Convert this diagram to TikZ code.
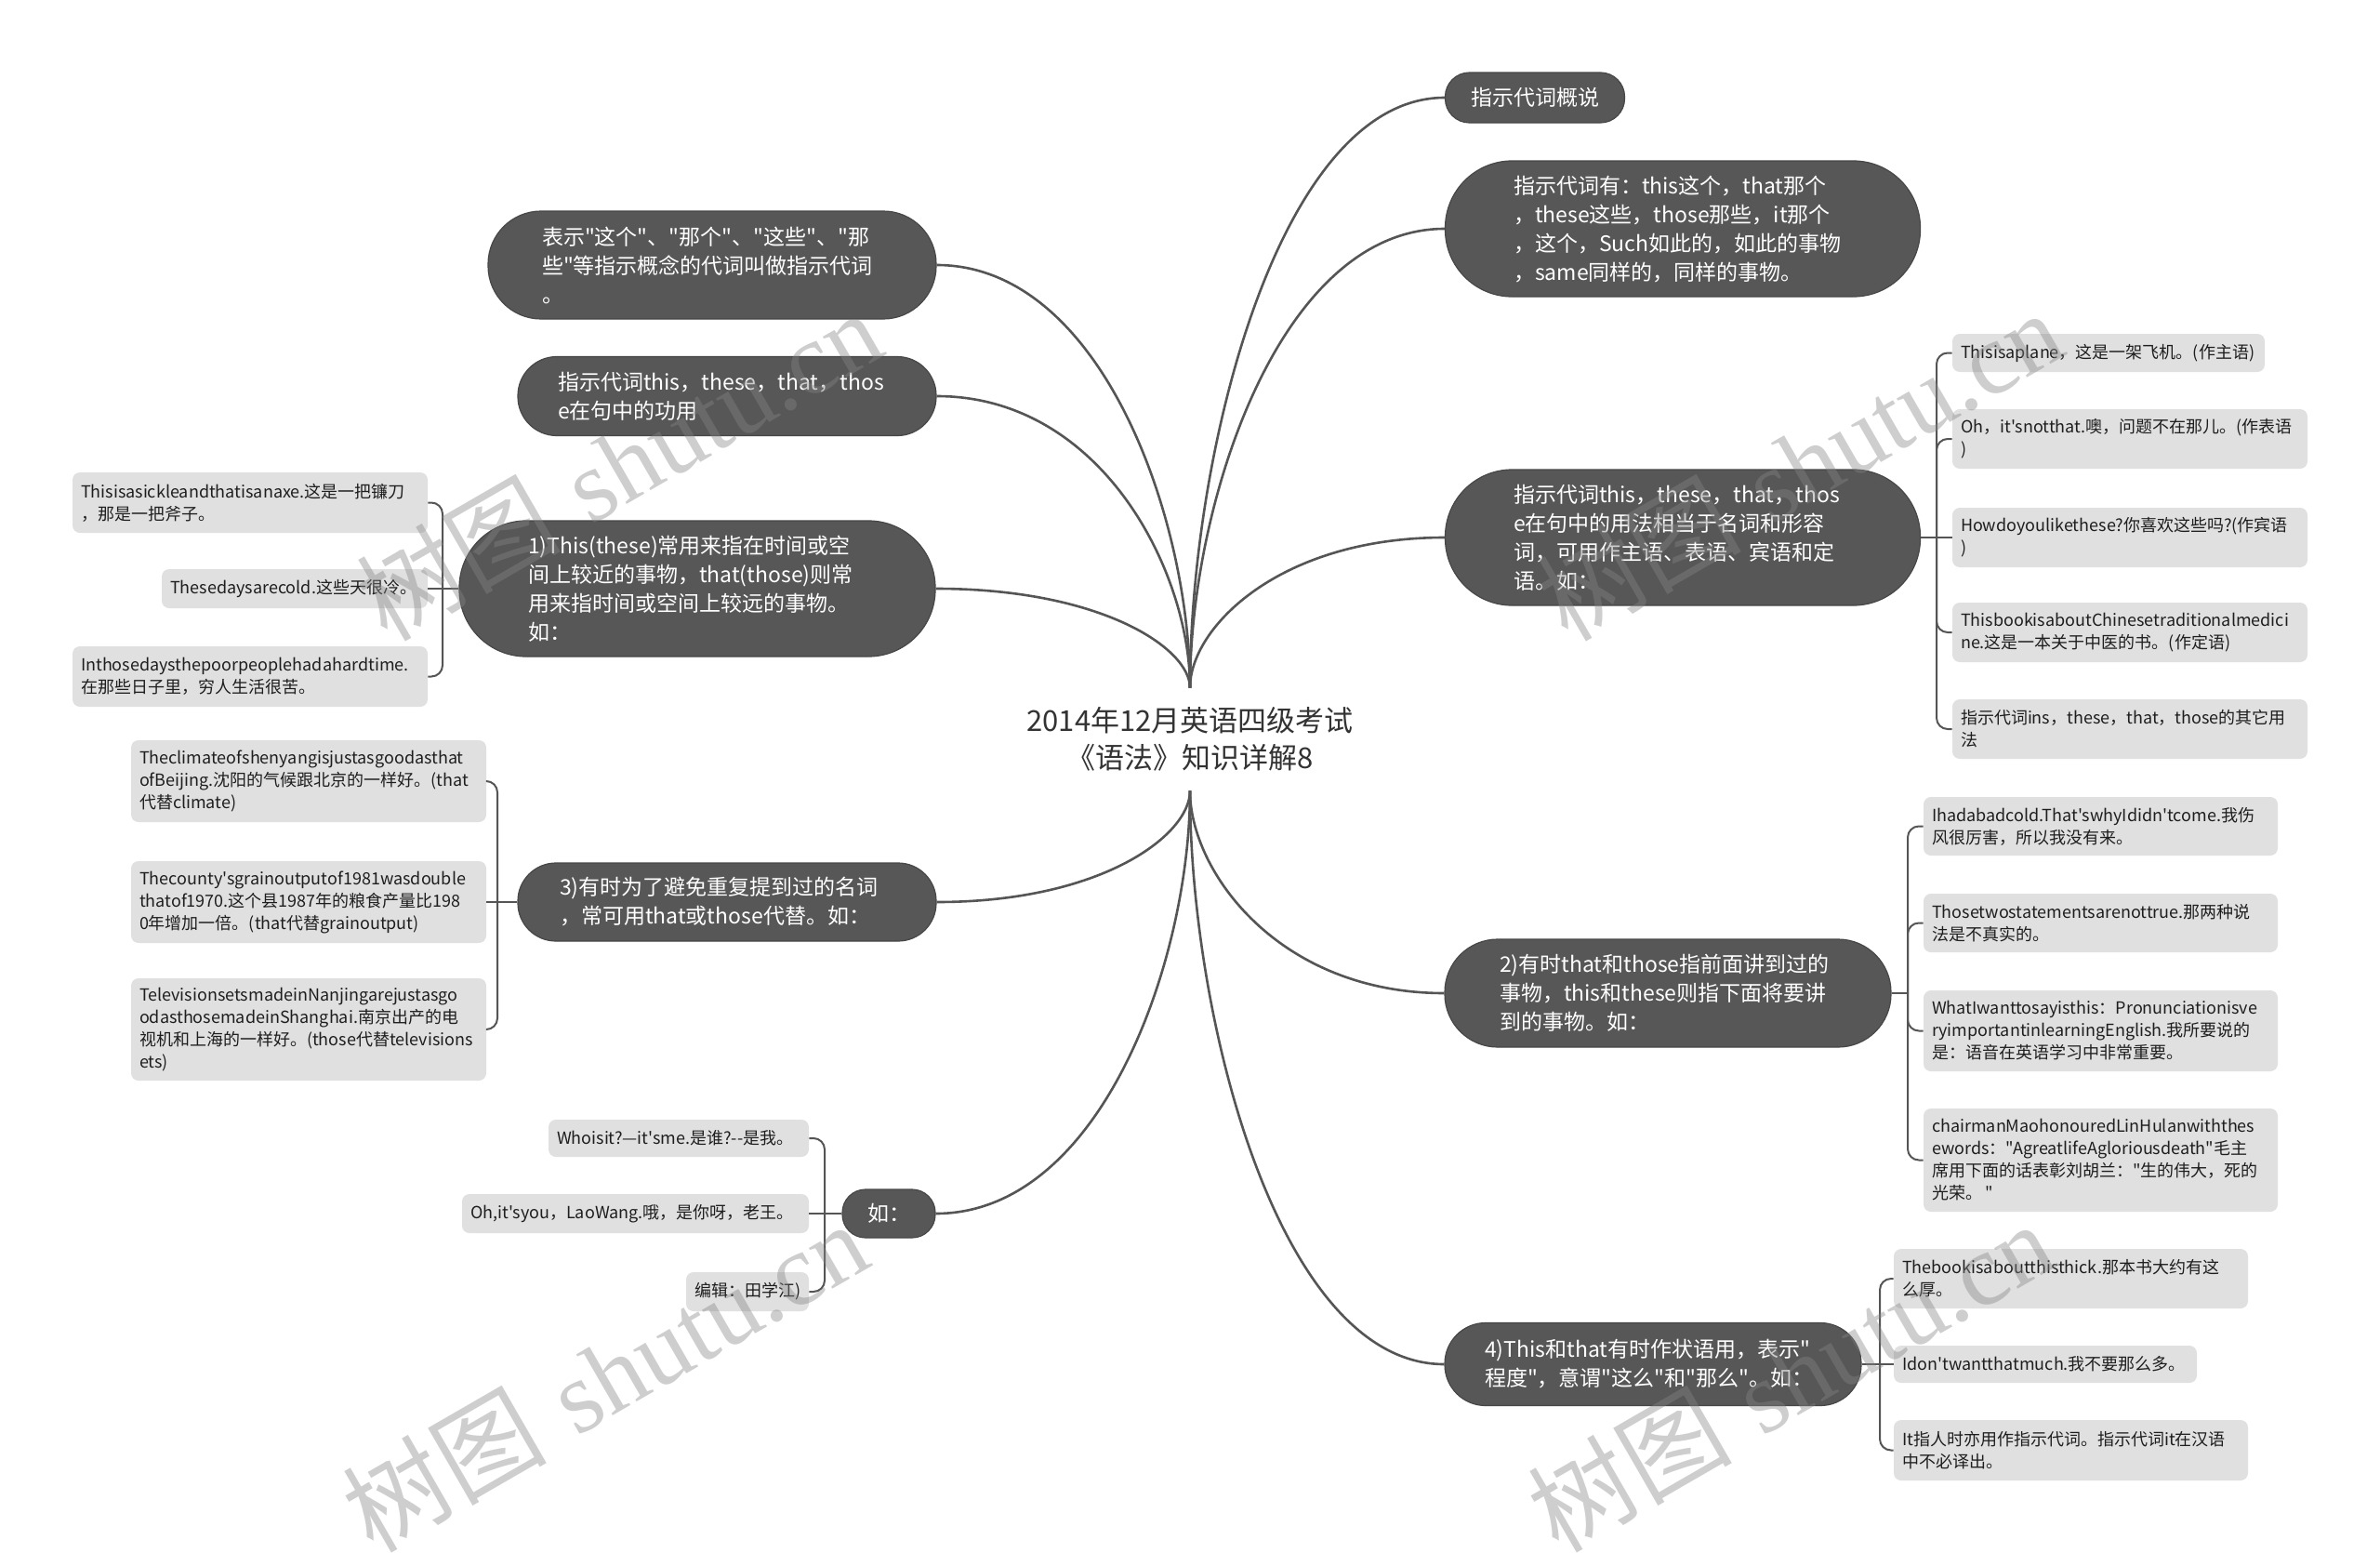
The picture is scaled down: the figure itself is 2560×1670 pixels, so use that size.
\documentclass[tikz,border=0pt]{standalone}
\usepackage{fontspec}
\newfontfamily\cjkmain{Noto Sans CJK SC}
\newfontfamily\wmlatin{Liberation Serif}
\usetikzlibrary{calc}
\definecolor{mainc}{HTML}{575757}
\definecolor{mainb}{HTML}{474747}
\definecolor{subc}{HTML}{E0E0E0}
\definecolor{linec}{HTML}{555555}
\definecolor{txtc}{HTML}{1E1E1E}
\definecolor{rootc}{HTML}{333333}
\definecolor{wmc}{HTML}{858585}
\newcommand\mmcurve[2]{\draw[conn] (#1) .. controls ($(#1)!0.4!(#1|-#2)$) and ($(#1|-#2)!0.35!(#2)$) .. (#2);}
\begin{document}
\begin{tikzpicture}[x=0.5pt,y=-0.5pt,
  mainnode/.style={fill=mainc, draw=mainb, line width=0.6pt, text=white, font=\cjkmain\fontsize{11.5}{15.5}\selectfont, align=left, inner sep=0pt},
  subnode/.style={fill=subc, rounded corners=4pt, text=txtc, font=\cjkmain\fontsize{9}{12}\selectfont, align=left, inner sep=0pt},
  conn/.style={draw=linec, line width=1.3pt},
  brk/.style={draw=linec, line width=1pt, rounded corners=6pt},
  wm/.style={text=wmc, opacity=0.4, rotate=30, inner sep=0pt, font=\fontsize{55}{55}\selectfont}
]
\useasboundingbox (0,0) rectangle (2560,1670);
\fill[white] (0,0) rectangle (2560,1670);

% root
\node[font=\cjkmain\fontsize{15.5}{20}\selectfont, text=rootc, align=center, minimum height=55pt, inner sep=0pt] (root) at (1280,795) {2014年12月英语四级考试\\《语法》知识详解8};

% main nodes right
\node[mainnode, minimum width=96.5pt, minimum height=27pt, rounded corners=13pt] (R1) at (1651,105) {指示代词概说};
\node[mainnode, minimum width=255.5pt, minimum height=73pt, text width=182pt, rounded corners=36pt] (R2) at (1810,246) {指示代词有：this这个，that那个\\，these这些，those那些，it那个\\，这个，Such如此的，如此的事物\\，same同样的，同样的事物。};
\node[mainnode, minimum width=255.5pt, minimum height=73pt, text width=182pt, rounded corners=36pt] (R3) at (1810,578) {指示代词this，these，that，thos\\e在句中的用法相当于名词和形容\\词，可用作主语、表语、宾语和定\\语。如：};
\node[mainnode, minimum width=240pt, minimum height=58pt, text width=181pt, rounded corners=28.5pt] (R4) at (1794,1068) {2)有时that和those指前面讲到过的\\事物，this和these则指下面将要讲\\到的事物。如：};
\node[mainnode, minimum width=224pt, minimum height=44.5pt, text width=181pt, rounded corners=22pt] (R5) at (1778,1467) {4)This和that有时作状语用，表示"\\程度"，意谓"这么"和"那么"。如：};

% main nodes left
\node[mainnode, minimum width=241pt, minimum height=58pt, text width=183pt, rounded corners=28.5pt] (L1) at (766,285) {表示"这个"、"那个"、"这些"、"那\\些"等指示概念的代词叫做指示代词\\。};
\node[mainnode, minimum width=225pt, minimum height=42.5pt, text width=182pt, rounded corners=21pt] (L2) at (782,426) {指示代词this，these，that，thos\\e在句中的功用};
\node[mainnode, minimum width=256pt, minimum height=73pt, text width=182pt, rounded corners=36pt] (L3) at (750,633) {1)This(these)常用来指在时间或空\\间上较近的事物，that(those)则常\\用来指时间或空间上较远的事物。\\如：};
\node[mainnode, minimum width=225pt, minimum height=42pt, text width=180pt, rounded corners=20.5pt] (L4) at (782,970) {3)有时为了避免重复提到过的名词\\，常可用that或those代替。如：};
\node[mainnode, minimum width=50pt, minimum height=26pt, rounded corners=12.5pt] (L5) at (956,1305) {如：};

% children of L3
\node[subnode, minimum width=191pt, minimum height=32.5pt, text width=182pt] (C1) at (269,540.5) {Thisisasickleandthatisanaxe.这是一把镰刀\\，那是一把斧子。};
\node[subnode, minimum width=143pt, minimum height=21pt, text width=134pt] (C2) at (317,633) {Thesedaysarecold.这些天很冷。};
\node[subnode, minimum width=191pt, minimum height=32.5pt, text width=182pt] (C3) at (269,727.5) {Inthosedaysthepoorpeoplehadahardtime.\\在那些日子里，穷人生活很苦。};

% children of L4
\node[subnode, minimum width=191pt, minimum height=44pt, text width=182pt] (D1) at (332,840) {Theclimateofshenyangisjustasgoodasthat\\ofBeijing.沈阳的气候跟北京的一样好。(that\\代替climate)};
\node[subnode, minimum width=191pt, minimum height=44pt, text width=182pt] (D2) at (332,970) {Thecounty'sgrainoutputof1981wasdouble\\thatof1970.这个县1987年的粮食产量比198\\0年增加一倍。(that代替grainoutput)};
\node[subnode, minimum width=191pt, minimum height=55pt, text width=182pt] (D3) at (332,1107) {TelevisionsetsmadeinNanjingarejustasgo\\odasthosemadeinShanghai.南京出产的电\\视机和上海的一样好。(those代替televisions\\ets)};

% children of L5
\node[subnode, minimum width=140pt, minimum height=20pt, text width=131pt] (E1) at (730,1224) {Whoisit?—it'sme.是谁?--是我。};
\node[subnode, minimum width=186.5pt, minimum height=21pt, text width=177.5pt] (E2) at (683.5,1305) {Oh,it'syou，LaoWang.哦，是你呀，老王。};
\node[subnode, minimum width=66pt, minimum height=21pt, text width=57pt] (E3) at (804,1389) {编辑：田学江)};

% children of R3
\node[subnode, minimum width=168pt, minimum height=20.5pt, text width=159pt] (F1) at (2268,379.5) {Thisisaplane，这是一架飞机。(作主语)};
\node[subnode, minimum width=191pt, minimum height=32pt, text width=182pt] (F2) at (2291,472) {Oh，it'snotthat.噢，问题不在那儿。(作表语\\)};
\node[subnode, minimum width=191pt, minimum height=32pt, text width=182pt] (F3) at (2291,578) {Howdoyoulikethese?你喜欢这些吗?(作宾语\\)};
\node[subnode, minimum width=191pt, minimum height=32pt, text width=182pt] (F4) at (2291,680) {ThisbookisaboutChinesetraditionalmedici\\ne.这是一本关于中医的书。(作定语)};
\node[subnode, minimum width=191pt, minimum height=32pt, text width=182pt] (F5) at (2291,784) {指示代词ins，these，that，those的其它用\\法};

% children of R4
\node[subnode, minimum width=190.5pt, minimum height=31.5pt, text width=181.5pt] (G1) at (2259.5,888.5) {Ihadabadcold.That'swhyIdidn'tcome.我伤\\风很厉害，所以我没有来。};
\node[subnode, minimum width=190.5pt, minimum height=31.5pt, text width=181.5pt] (G2) at (2259.5,992.5) {Thosetwostatementsarenottrue.那两种说\\法是不真实的。};
\node[subnode, minimum width=190.5pt, minimum height=43.5pt, text width=181.5pt] (G3) at (2259.5,1108.5) {WhatIwanttosayisthis：Pronunciationisve\\ryimportantinlearningEnglish.我所要说的\\是：语音在英语学习中非常重要。};
\node[subnode, minimum width=190.5pt, minimum height=55.5pt, text width=181.5pt] (G4) at (2259.5,1247.5) {chairmanMaohonouredLinHulanwiththes\\ewords："AgreatlifeAgloriousdeath"毛主\\席用下面的话表彰刘胡兰："生的伟大，死的\\光荣。\,"};

% children of R5
\node[subnode, minimum width=190.5pt, minimum height=32pt, text width=181.5pt] (H1) at (2227.5,1375) {Thebookisaboutthisthick.那本书大约有这\\么厚。};
\node[subnode, minimum width=163pt, minimum height=20pt, text width=154pt] (H2) at (2200,1467) {Idon'twantthatmuch.我不要那么多。};
\node[subnode, minimum width=190.5pt, minimum height=32.5pt, text width=181.5pt] (H3) at (2227.5,1559.5) {It指人时亦用作指示代词。指示代词it在汉语\\中不必译出。};

% main connectors
\mmcurve{root.north}{L1.east}
\mmcurve{root.north}{L2.east}
\mmcurve{root.north}{L3.east}
\mmcurve{root.north}{R1.west}
\mmcurve{root.north}{R2.west}
\mmcurve{root.north}{R3.west}
\mmcurve{root.south}{L4.east}
\mmcurve{root.south}{L5.east}
\mmcurve{root.south}{R4.west}
\mmcurve{root.south}{R5.west}

% junctions
\coordinate (jL3) at (476,633);
\coordinate (jL4) at (535,970);
\coordinate (jL5) at (887,1305);
\coordinate (jR3) at (2083,578);
\coordinate (jR4) at (2052,1068);
\coordinate (jR5) at (2022,1467);

% brackets
\draw[brk] (L3.west) -- (C2.east);
\draw[brk] (jL3) |- (C1.east);
\draw[brk] (jL3) |- (C3.east);
\draw[brk] (L4.west) -- (D2.east);
\draw[brk] (jL4) |- (D1.east);
\draw[brk] (jL4) |- (D3.east);
\draw[brk] (L5.west) -- (E2.east);
\draw[brk] (jL5) |- (E1.east);
\draw[brk] (jL5) |- (E3.east);
\draw[brk] (R3.east) -- (F3.west);
\draw[brk] (jR3) |- (F1.west);
\draw[brk] (jR3) |- (F2.west);
\draw[brk] (jR3) |- (F4.west);
\draw[brk] (jR3) |- (F5.west);
\draw[brk] (R4.east) -- (jR4);
\draw[brk] (jR4) |- (G1.west);
\draw[brk] (jR4) |- (G2.west);
\draw[brk] (jR4) |- (G3.west);
\draw[brk] (jR4) |- (G4.west);
\draw[brk] (R5.east) -- (H2.west);
\draw[brk] (jR5) |- (H1.west);
\draw[brk] (jR5) |- (H3.west);

% watermarks
\node[wm] (wm1) at (665,500) {{\cjkmain 树图} {\wmlatin shutu.cn}};
\node[wm] (wm2) at (1935,500) {{\cjkmain 树图} {\wmlatin shutu.cn}};
\node[wm] (wm3) at (650,1480) {{\cjkmain 树图} {\wmlatin shutu.cn}};
\node[wm] (wm4) at (1925,1480) {{\cjkmain 树图} {\wmlatin shutu.cn}};
\end{tikzpicture}
\end{document}
